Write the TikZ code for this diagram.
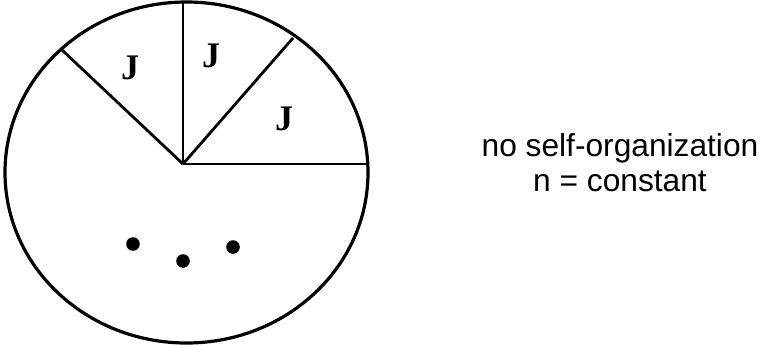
\documentclass[tikz,border=0pt]{standalone}
\usepackage{fontspec}
\setmainfont{Liberation Serif}
\newfontfamily\arialfont{Liberation Sans}
\begin{document}
\begin{tikzpicture}[x=1pt,y=-1pt,
  edge/.style={line width=2.8pt},
  jlabel/.style={font=\bfseries\fontsize{36}{36}\selectfont},
  dotmark/.style={fill=black},
  caption/.style={font=\arialfont\fontsize{31.7}{35}\selectfont, align=center}]
\useasboundingbox (0,0) rectangle (760,345);
\draw[line width=3.2pt] (186.5,172.5) ellipse [x radius=181.5, y radius=170.5];
\coordinate (hub) at (183,164);
\coordinate (top) at (183,2);
\coordinate (right) at (367.5,164);
\coordinate (ur) at (293,38);
\coordinate (ul) at (62,50);
\draw[edge] (hub) -- (top);
\draw[edge] (hub) -- (right);
\draw[edge] (hub) -- (ur);
\draw[edge] (hub) -- (ul);
\node[jlabel] (j1) at (130,68) {J};
\node[jlabel] (j2) at (211,56) {J};
\node[jlabel] (j3) at (284,119) {J};
\fill[dotmark] (133,244) circle (6.8);
\fill[dotmark] (183,261) circle (6.8);
\fill[dotmark] (233,247) circle (6.8);
\node[caption] (cap) at (620,162.7) {no self-organization\\n = constant};
\end{tikzpicture}
\end{document}
